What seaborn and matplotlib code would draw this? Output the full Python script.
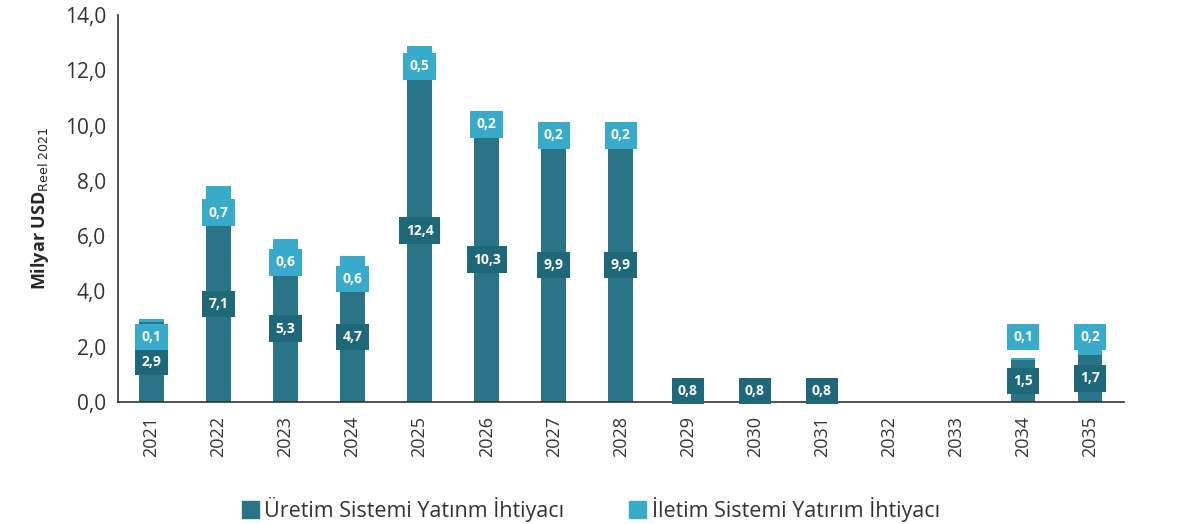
import numpy as np
import pandas as pd
import matplotlib
matplotlib.use("Agg")
import matplotlib.pyplot as plt
from matplotlib.patches import Patch
import seaborn as sns

# values (Milyar USD, reel 2021)
years = ["2021", "2022", "2023", "2024", "2025", "2026", "2027", "2028",
         "2029", "2030", "2031", "2032", "2033", "2034", "2035"]
uretim = [2.9, 7.1, 5.3, 4.7, 12.4, 10.3, 9.9, 9.9, 0.8, 0.8, 0.8, 0.0, 0.0, 1.5, 1.7]
iletim = [0.1, 0.7, 0.6, 0.6, 0.5, 0.2, 0.2, 0.2, 0.0, 0.0, 0.0, 0.0, 0.0, 0.1, 0.2]

dark = "#2a7487"
dark_box = "#1f687a"
light = "#37abc9"
axis_col = "#333333"

sns.set_style("white")
plt.rcParams["font.family"] = ["Open Sans", "DejaVu Sans"]

df = pd.DataFrame({"yil": years, "uretim": uretim, "iletim": iletim})
df["toplam"] = df["uretim"] + df["iletim"]

fig = plt.figure(figsize=(11.79, 5.24), dpi=100)
ax = fig.add_axes([0.100, 0.233, 0.853, 0.738])

# stacked bars: total first (light), production on top (dark)
sns.barplot(data=df, x="yil", y="toplam", color=light, width=0.37,
            saturation=1, linewidth=0, ax=ax)
sns.barplot(data=df, x="yil", y="uretim", color=dark, width=0.37,
            saturation=1, linewidth=0, ax=ax)

txt_kw = dict(ha="center", va="center", color="white", fontsize=10,
              fontweight="bold")
for i, row in df.iterrows():
    if row["uretim"] > 0:
        ax.text(i, row["uretim"] / 2, f"{row['uretim']:.1f}".replace(".", ","),
                bbox=dict(boxstyle="square,pad=0.45", fc=dark_box, ec="none"),
                **txt_kw)
    if row["iletim"] > 0:
        # short bars: label pushed up so it clears the lower label
        y = row["uretim"] - 0.25 if row["uretim"] > 3 else 2.35
        ax.text(i, y, f"{row['iletim']:.1f}".replace(".", ","),
                bbox=dict(boxstyle="square,pad=0.45", fc=light, ec="none"),
                **txt_kw)

ax.set_xlim(-0.5, len(years) - 0.5)
ax.set_ylim(0, 14)
yt = np.arange(0, 14.1, 2)
ax.set_yticks(yt)
ax.set_yticklabels([f"{v:.1f}".replace(".", ",") for v in yt],
                   fontsize=15, color=axis_col)
# ticks between categories, labels centred under bars
ax.set_xticks(np.arange(len(years) + 1) - 0.5)
ax.set_xticklabels([])
ax.set_xticks(np.arange(len(years)), minor=True)
ax.set_xticklabels(years, minor=True, rotation=90, fontsize=13, color=axis_col)
ax.tick_params(axis="x", which="major", length=5, width=1.2, color=axis_col,
               direction="out")
ax.tick_params(axis="x", which="minor", length=0, pad=10)
ax.tick_params(axis="y", length=5, width=1.2, color=axis_col, direction="out")
ax.set_xlabel("")
ax.set_ylabel(r"Milyar USD$_{\mathrm{Reel\ 2021}}$", fontsize=13,
              fontweight="bold", labelpad=10)

sns.despine(ax=ax)
for s in ["left", "bottom"]:
    ax.spines[s].set_color(axis_col)
    ax.spines[s].set_linewidth(1.2)

handles = [Patch(color=dark, label="Üretim Sistemi Yatınm İhtiyacı"),
           Patch(color=light, label="İletim Sistemi Yatırım İhtiyacı")]
fig.legend(handles=handles, loc="center", bbox_to_anchor=(0.501, 0.028),
           ncol=2, frameon=False, fontsize=15.5, handlelength=0.8,
           handleheight=0.8, handletextpad=0.25, columnspacing=3.0,
           labelcolor="#333333")

fig.savefig("out.png", dpi=100)
